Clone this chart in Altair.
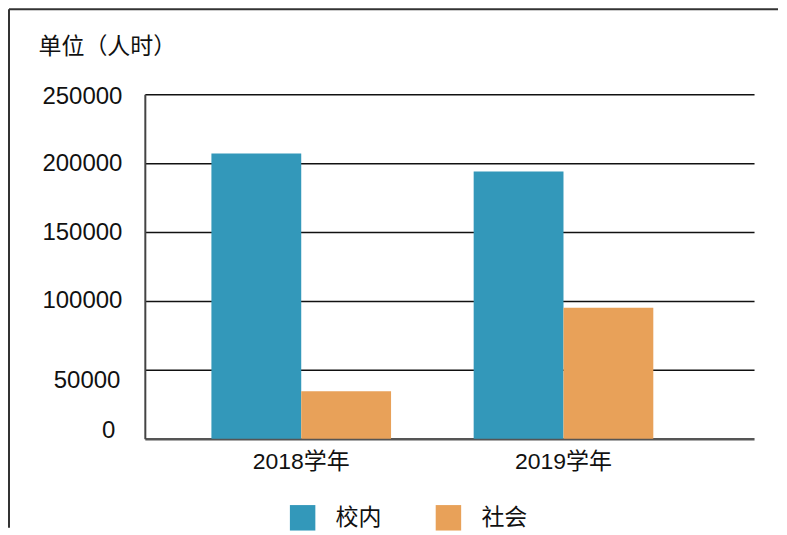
import altair as alt
import pandas as pd

years = ["2018学年", "2019学年"]
series = ["校内", "社会"]
campus = [207000, 194000]
society = [34500, 95000]
y_ticks = [0, 50000, 100000, 150000, 200000, 250000]
colors = ["#3398ba", "#e8a159"]

rows = []
for i, yname in enumerate(years):
    rows.append({"year": yname, "series": series[0], "value": campus[i]})
    rows.append({"year": yname, "series": series[1], "value": society[i]})
df = pd.DataFrame(rows)

FONT = "Liberation Sans, Arial, Noto Sans CJK SC"

bars = alt.Chart(df).mark_bar().encode(
    x=alt.X("year:N", sort=years,
            scale=alt.Scale(paddingInner=0.315, paddingOuter=0.319, align=0.398),
            axis=alt.Axis(title=None, labelAngle=0, domain=False, ticks=False,
                          labelFontSize=23, labelPadding=12, labelColor="#111111",
                          labelFont=FONT)),
    xOffset=alt.XOffset("series:N", sort=series),
    y=alt.Y("value:Q", scale=alt.Scale(domain=[0, 250000]),
            axis=alt.Axis(values=y_ticks, title="单位（人时）", titleAngle=0,
                          titleX=-107, titleY=-48, titleAlign="left",
                          titleBaseline="middle", titleFontSize=23,
                          titleFontWeight="normal", titleColor="#111111",
                          titleFont=FONT,
                          ticks=False, labelFontSize=24,
                          labelPadding={"condition": [
                              {"test": "datum.value == 0", "value": 30},
                              {"test": "datum.value == 50000", "value": 25}],
                              "value": 23},
                          labelColor="#111111", labelFont=FONT,
                          labelOffset={"condition": [
                              {"test": "datum.value == 0", "value": -8},
                              {"test": "datum.value == 50000", "value": 11},
                              {"test": "datum.value == 250000", "value": 2}],
                              "value": 0},
                          domain=True, domainColor="#444444", domainWidth=2,
                          grid=True,
                          gridColor=alt.condition("datum.value == 0", alt.value("#555555"), alt.value("#111111")),
                          gridWidth=alt.condition("datum.value == 0", alt.value(2.5), alt.value(1.5)),
                          format="d")),
    color=alt.Color("series:N", sort=series,
                    scale=alt.Scale(domain=series, range=colors),
                    legend=alt.Legend(title=None, orient="none", legendX=145, legendY=411,
                                      direction="horizontal", symbolType="square",
                                      symbolSize=650, symbolStrokeWidth=0,
                                      labelFontSize=23, labelFont=FONT, labelColor="#111111",
                                      labelOffset=20, columnPadding=54)),
)

frame_data = alt.Data(values=[{}])
vline = alt.Chart(frame_data).mark_rule(color="#333333", strokeWidth=2).encode(
    x=alt.value(-136), y=alt.value(-85), y2=alt.value(434))
hline = alt.Chart(frame_data).mark_rule(color="#333333", strokeWidth=2).encode(
    x=alt.value(-136), x2=alt.value(634), y=alt.value(-85))

chart = alt.layer(bars, vline, hline).properties(
    width=610, height=345, padding=0, background="white"
).configure_view(stroke=None)

chart.save("out.html", embed_options={"renderer": "svg", "actions": False})
